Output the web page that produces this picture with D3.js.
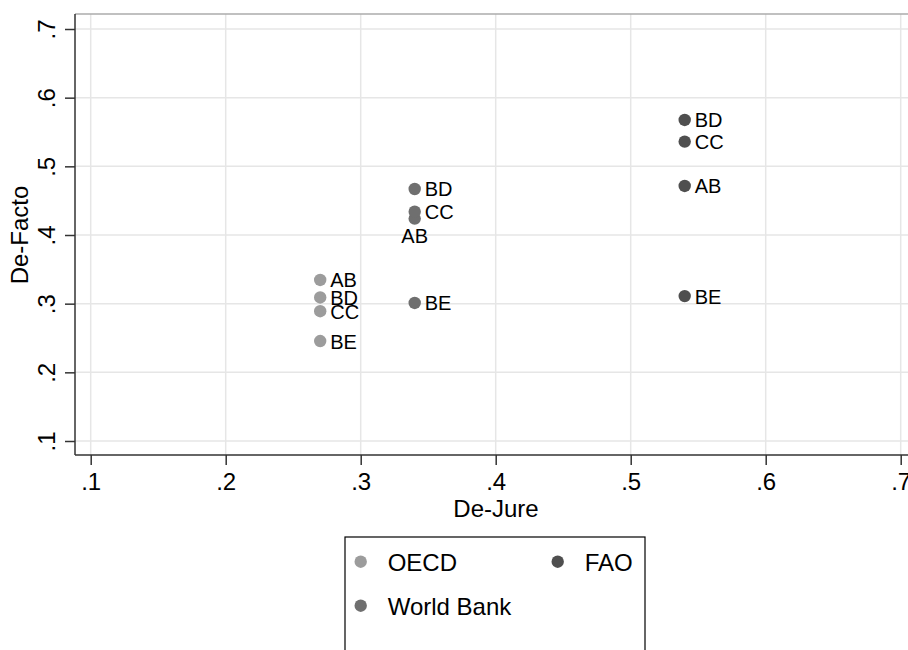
<!DOCTYPE html>
<html>
<head>
<meta charset="utf-8">
<script src="https://cdnjs.cloudflare.com/ajax/libs/d3/7.8.5/d3.min.js"></script>
<style>
  body { margin: 0; background: #fff; }
  svg { display: block; font-family: "Liberation Sans", Arial, Helvetica, sans-serif; }
</style>
</head>
<body>
<div id="chart"></div>
<script>
// data
const series = ["OECD", "World Bank", "FAO"];
const seriesX = [0.27, 0.34, 0.54];
const codes = ["AB", "BD", "CC", "BE"];
const oecdY = [0.3345, 0.309, 0.289, 0.2456];
const worldBankY = [0.424, 0.467, 0.434, 0.301];
const faoY = [0.4714, 0.5675, 0.536, 0.311];
const xTicks = [0.1, 0.2, 0.3, 0.4, 0.5, 0.6, 0.7];
const yTicks = [0.1, 0.2, 0.3, 0.4, 0.5, 0.6, 0.7];
const colors = ["#9c9c9c", "#6f6f6f", "#4f4f4f"];

const W = 908, H = 650;
const plot = {left: 75, top: 14, right: 930, bottom: 455};

const svg = d3.select("#chart").append("svg")
  .attr("width", W).attr("height", H);

const x = d3.scaleLinear().domain([0.1, 0.7]).range([90.7, 900.7]);
const y = d3.scaleLinear().domain([0.1, 0.7]).range([441, 29]);

const fmt = d => d3.format(".1f")(d).replace(/^0/, "");

// grid
svg.append("g").selectAll("line").data(xTicks).enter().append("line")
  .attr("x1", d => x(d)).attr("x2", d => x(d))
  .attr("y1", plot.top).attr("y2", plot.bottom)
  .attr("stroke", "#e6e6e6").attr("stroke-width", 1.5);
svg.append("g").selectAll("line").data(yTicks).enter().append("line")
  .attr("y1", d => y(d)).attr("y2", d => y(d))
  .attr("x1", plot.left).attr("x2", plot.right)
  .attr("stroke", "#e6e6e6").attr("stroke-width", 1.5);

// top border
svg.append("line")
  .attr("x1", plot.left).attr("x2", plot.right)
  .attr("y1", plot.top).attr("y2", plot.top)
  .attr("stroke", "#ababab").attr("stroke-width", 1.5);

// x axis
const xAxis = svg.append("g")
  .attr("transform", "translate(0," + plot.bottom + ")")
  .call(d3.axisBottom(x).tickValues(xTicks).tickFormat(fmt).tickSize(10).tickPadding(8));
xAxis.select(".domain").remove();
xAxis.append("line").attr("x1", plot.left).attr("x2", plot.right)
  .attr("stroke", "#333").attr("stroke-width", 1.5);
xAxis.selectAll(".tick line").attr("stroke", "#333").attr("stroke-width", 1.5);
xAxis.selectAll(".tick text").attr("fill", "#000").style("font-size", "24px")
  .style("font-family", "inherit");

// y axis
const yAxis = svg.append("g")
  .attr("transform", "translate(" + plot.left + ",0)")
  .call(d3.axisLeft(y).tickValues(yTicks).tickFormat(fmt).tickSize(10).tickPadding(8));
yAxis.select(".domain").remove();
yAxis.append("line").attr("y1", plot.top).attr("y2", plot.bottom)
  .attr("stroke", "#333").attr("stroke-width", 1.5);
yAxis.selectAll(".tick line").attr("stroke", "#333").attr("stroke-width", 1.5);
yAxis.selectAll(".tick text")
  .attr("fill", "#000").style("font-size", "24px").style("font-family", "inherit")
  .attr("x", null).attr("dy", null)
  .attr("text-anchor", "middle")
  .attr("transform", "translate(-20,0) rotate(-90)");

// axis titles
svg.append("text").attr("x", 496).attr("y", 517)
  .attr("text-anchor", "middle").style("font-size", "24px").text("De-Jure");
svg.append("text").attr("transform", "translate(28,235) rotate(-90)")
  .attr("text-anchor", "middle").style("font-size", "24px").text("De-Facto");

// points
const allY = [oecdY, worldBankY, faoY];
const points = [];
series.forEach((s, i) => {
  codes.forEach((c, j) => {
    points.push({series: i, code: c, x: seriesX[i], y: allY[i][j]});
  });
});

svg.append("g").selectAll("circle").data(points).enter().append("circle")
  .attr("cx", d => x(d.x)).attr("cy", d => y(d.y)).attr("r", 6.2)
  .attr("fill", d => colors[d.series]);

// labels (World Bank AB sits below its marker)
const below = d => d.series === 1 && d.code === "AB";
svg.append("g").selectAll("text").data(points).enter().append("text")
  .attr("x", d => below(d) ? x(d.x) : x(d.x) + 10)
  .attr("y", d => below(d) ? y(d.y) + 24.5 : y(d.y) + 7.5)
  .attr("text-anchor", d => below(d) ? "middle" : "start")
  .style("font-size", "20px")
  .text(d => d.code);

// legend
const lg = svg.append("g");
lg.append("rect").attr("x", 345).attr("y", 537).attr("width", 300).attr("height", 130)
  .attr("fill", "#fff").attr("stroke", "#000").attr("stroke-width", 1.2);
const legendPos = [[360.7, 561.7], [360.7, 605.7], [557.7, 561.7]];
series.forEach((s, i) => {
  lg.append("circle").attr("cx", legendPos[i][0]).attr("cy", legendPos[i][1])
    .attr("r", 6.2).attr("fill", colors[i]);
  lg.append("text").attr("x", legendPos[i][0] + 27).attr("y", legendPos[i][1] + 9)
    .style("font-size", "24px").text(s);
});
</script>
</body>
</html>
